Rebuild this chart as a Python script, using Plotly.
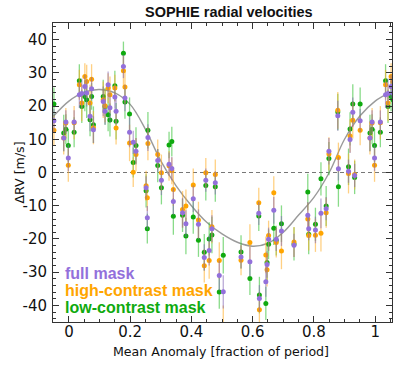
import plotly.graph_objects as go

# ---- data (phase-folded RVs, m/s) ----
phase = [0.017, 0.034, 0.042, 0.052, 0.058, 0.069, 0.074, 0.080, 0.112, 0.118,
         0.128, 0.134, 0.150, 0.154, 0.178, 0.183, 0.198, 0.210, 0.219, 0.252,
         0.256, 0.258, 0.290, 0.302, 0.327, 0.336, 0.341, 0.371, 0.382, 0.406,
         0.423, 0.442, 0.447, 0.458, 0.467, 0.478, 0.491, 0.504, 0.562, 0.591,
         0.620, 0.622, 0.643, 0.647, 0.652, 0.669, 0.677, 0.694, 0.735, 0.780,
         0.783, 0.805, 0.823, 0.840, 0.849, 0.878, 0.880, 0.913, 0.918, 0.927,
         0.933, 0.951, 0.983, 0.990, 0.998]

rv_full = [15.2, 23.4, 23.8, 25.9, 23.9, 16.9, 25.2, 12.9, 21.4, 18.4,
           26.4, 19.5, 22.7, 18.4, 31.9, 22.4, 12.1, 9.1, 6.4, -4.6,
           -13.6, 10.5, 3.6, -2.3, 2.5, 1.2, -8.7, -12.1, -15.4, -7.9,
           -15.6, -25.6, -2.3, -23.5, -16.9, -3.1, -31.0, -35.9, -25.4, -26.9,
           -12.3, -37.9, -32.9, -27.7, -20.1, -11.4, -20.1, -17.6, -21.9, -12.9,
           -16.9, -17.3, -12.3, -10.9, 6.4, 17.1, 1.1, 0.4, 9.9, 18.1,
           -0.9, 15.6, 10.4, 15.2, 4.4]

rv_high = [15.0, 26.4, 20.9, 28.9, 27.4, 20.9, 28.1, 13.5, 21.9, 20.1,
           25.4, 23.4, 25.4, 13.4, 30.6, 25.7, 8.9, 0.1, 5.4, -4.0,
           -7.6, 8.7, 5.4, -0.1, 2.0, 0.5, -5.1, -11.1, -10.1, -3.8,
           -14.3, -28.1, -0.1, -26.5, -16.3, -0.6, -26.5, -46.0, -26.4, -21.1,
           -9.1, -41.3, -24.8, -29.3, -19.0, -6.1, -21.1, -23.6, -20.9, -14.0,
           -19.0, -18.9, -18.3, -12.1, 5.6, 18.7, 4.5, -0.3, 11.0, 15.7,
           -0.6, 12.7, 10.4, 14.9, 2.2]

rv_low = [12.1, 27.6, 19.9, 22.9, 21.9, 15.9, 22.9, 14.4, 22.9, 19.9,
          17.4, 15.8, 26.1, 15.4, 35.9, 21.2, 17.6, 3.0, 8.1, -5.5,
          -16.9, 12.7, 2.1, -4.6, 8.3, 9.3, -13.2, -12.9, -19.1, -13.4,
          -20.4, -24.0, -3.9, -20.0, -18.8, -4.3, -36.0, -24.9, -23.9, -31.9,
          -13.1, -36.9, -39.4, -27.1, -21.6, -16.8, -20.5, -15.4, -21.5, -5.9,
          -18.6, -15.6, -1.9, -10.1, 4.2, 18.2, -4.3, 1.7, 13.1, 20.6,
          -1.5, 20.6, 11.9, 13.0, 8.1]

err_full = [3.5, 4.0, 4.5, 3.5, 4.0, 4.5, 3.5, 4.0, 4.5, 4.0,
            4.0, 4.5, 3.5, 4.0, 3.5, 4.0, 4.5, 3.5, 4.0, 3.5,
            3.5, 4.0, 3.5, 4.5, 3.5, 3.5, 4.0, 4.5, 4.0, 4.0,
            4.5, 4.0, 3.5, 4.5, 4.0, 3.5, 4.5, 5.0, 3.5, 4.5,
            3.5, 4.0, 4.5, 4.0, 3.5, 4.0, 3.5, 4.5, 3.5, 4.0,
            3.5, 4.0, 4.5, 3.5, 4.0, 4.5, 3.5, 3.5, 4.0, 4.5,
            3.5, 3.5, 4.0, 3.5, 4.0]

err_high = [5.0, 4.5, 5.5, 4.0, 5.0, 5.5, 4.5, 5.0, 5.5, 5.0,
            4.5, 5.5, 4.0, 5.0, 4.5, 5.0, 5.5, 4.5, 5.0, 4.5,
            4.0, 5.0, 4.5, 5.5, 4.5, 4.0, 5.0, 5.5, 5.0, 5.0,
            5.5, 5.0, 4.5, 5.5, 5.0, 4.5, 5.5, 6.0, 4.5, 5.5,
            4.5, 5.0, 5.5, 5.0, 4.5, 5.0, 4.5, 5.5, 4.5, 5.0,
            4.5, 5.0, 5.5, 4.5, 5.0, 5.5, 4.5, 6.0, 5.0, 5.5,
            4.5, 4.5, 5.0, 4.5, 5.0]

err_low = [4.5, 5.0, 5.0, 4.5, 5.5, 5.0, 4.0, 5.5, 5.0, 5.5,
           5.0, 5.0, 4.5, 5.5, 3.5, 5.0, 5.0, 4.5, 5.5, 5.0,
           4.5, 5.5, 5.0, 5.0, 4.0, 4.5, 5.5, 5.0, 5.5, 5.0,
           5.0, 5.5, 4.5, 5.0, 5.5, 4.5, 5.0, 5.5, 5.0, 5.0,
           4.5, 5.5, 5.0, 5.5, 4.5, 5.0, 4.5, 5.5, 5.0, 5.5,
           6.0, 5.0, 5.0, 6.0, 5.0, 5.5, 6.0, 5.5, 5.0, 6.0,
           5.0, 5.0, 5.5, 4.5, 5.0]

# orbital fit curve
curve_phase = [-0.05, 0.0, 0.05, 0.10, 0.15, 0.20, 0.25, 0.30, 0.35, 0.40, 0.45,
               0.50, 0.55, 0.60, 0.65, 0.70, 0.75, 0.80, 0.85, 0.90, 0.95, 1.00, 1.05]
curve_rv = [17.0, 21.5, 24.2, 25.0, 24.0, 20.5, 13.0, 3.5, -4.0, -10.0, -15.0,
            -18.5, -21.0, -22.2, -21.3, -18.0, -12.8, -7.5, 0.0, 10.0, 17.0, 21.5, 24.2]

series_names = ["full mask", "high-contrast mask", "low-contrast mask"]
y_ticks = [-40, -30, -20, -10, 0, 10, 20, 30, 40]
y_ticktext = ["-40", "-30", "-20", "-10", "0", "10", "20", "30", "40"]
x_ticks = [0, 0.2, 0.4, 0.6, 0.8, 1]
x_ticktext = ["0", "0.2", "0.4", "0.6", "0.8", "1"]

C_FULL = "#9370DB"
C_HIGH = "#FFA500"
C_LOW = "#0FAA0F"


def wrap(ph, vals, errs):
    """phase-folded plot shows the cycle repeated slightly beyond [0, 1]"""
    p2, v2, e2 = list(ph), list(vals), list(errs)
    for p, v, e in zip(ph, vals, errs):
        if p < 0.06:
            p2.append(p + 1); v2.append(v); e2.append(e)
        if p > 0.94:
            p2.append(p - 1); v2.append(v); e2.append(e)
    return p2, v2, e2


fig = go.Figure()

fig.add_trace(go.Scatter(x=curve_phase, y=curve_rv, mode="lines",
                         line=dict(color="#9a9a9a", width=1.4, shape="spline", smoothing=1.0),
                         hoverinfo="skip", showlegend=False))

for vals, errs, col, ecol in [
    (rv_low, err_low, C_LOW, "rgba(40,190,40,0.55)"),
    (rv_high, err_high, C_HIGH, "rgba(255,170,30,0.55)"),
    (rv_full, err_full, C_FULL, "rgba(130,100,180,0.55)"),
]:
    px, py, pe = wrap(phase, vals, errs)
    fig.add_trace(go.Scatter(
        x=px, y=py, mode="markers",
        marker=dict(color=col, size=5, line=dict(width=0)),
        error_y=dict(type="data", array=pe, visible=True, color=ecol, thickness=1.3, width=0),
        showlegend=False))

fig.add_shape(type="line", xref="paper", yref="y", x0=0, x1=1, y0=0, y1=0,
              line=dict(color="#777777", width=1, dash="4px,3px"), layer="below")

axis_common = dict(showline=True, linecolor="#333333", linewidth=1, mirror="allticks",
                   ticks="inside", tickcolor="#333333", ticklen=6, tickwidth=1,
                   showgrid=False, zeroline=False)

fig.update_xaxes(range=[-0.052, 1.055], tickvals=x_ticks, ticktext=x_ticktext,
                 tickfont=dict(family="DejaVu Sans", size=15, color="#111111"),
                 ticklabelstandoff=-4,
                 minor=dict(dtick=0.05, ticks="inside", ticklen=3, tickcolor="#333333"),
                 **axis_common)
fig.update_yaxes(range=[-45, 45], tickvals=y_ticks, ticktext=y_ticktext,
                 tickfont=dict(family="DejaVu Sans", size=15, color="#111111"),
                 ticklabelstandoff=2,
                 minor=dict(dtick=2, ticks="inside", ticklen=3, tickcolor="#333333"),
                 **axis_common)

annotations = [
    dict(text="<b>SOPHIE radial velocities</b>", xref="paper", yref="paper", x=0.519, y=1.037,
         xanchor="center", yanchor="middle", showarrow=False,
         font=dict(family="Liberation Sans", size=14.5, color="#111111")),
    dict(text="Mean Anomaly [fraction of period]", xref="paper", yref="paper", x=0.497, y=-0.097,
         xanchor="center", yanchor="middle", showarrow=False,
         font=dict(family="DejaVu Sans", size=12.6, color="#111111")),
    dict(text="ΔRV [m/s]", xref="paper", yref="paper", x=-0.1, y=0.5, textangle=-90,
         xanchor="center", yanchor="middle", showarrow=False,
         font=dict(family="DejaVu Sans", size=12.6, color="#111111")),
]
for name, col, yy in zip(series_names, [C_FULL, C_HIGH, C_LOW], [0.1615, 0.106, 0.050]):
    annotations.append(dict(text="<b>" + name + "</b>", xref="paper", yref="paper", x=0.0295, y=yy,
                            xanchor="left", yanchor="middle", showarrow=False,
                            font=dict(family="Liberation Sans", size=16, color=col)))

fig.update_layout(width=415, height=366, margin=dict(l=53, r=23, t=23, b=44),
                  paper_bgcolor="white", plot_bgcolor="white",
                  annotations=annotations, showlegend=False)

# remove the browser's default 8px body margin so the figure fills the window
fig.write_html("out.html", config={"displayModeBar": False},
               post_script="document.body.style.margin='0';")
